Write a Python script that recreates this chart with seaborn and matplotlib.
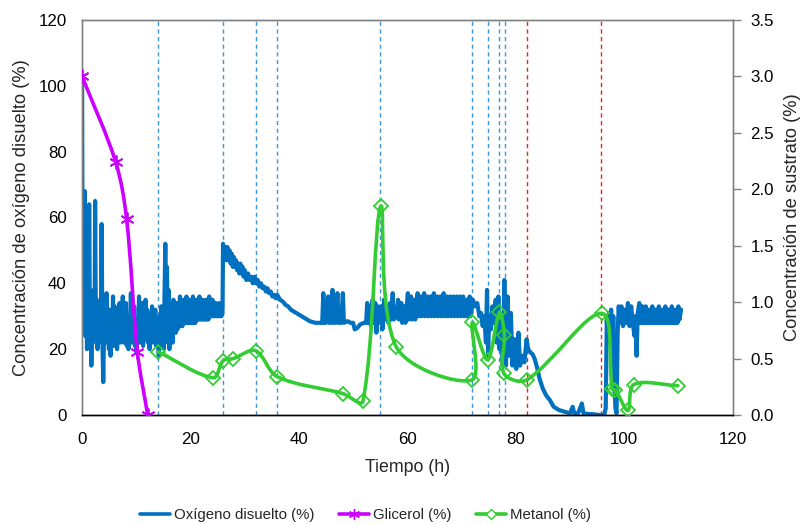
import matplotlib
matplotlib.use("Agg")
import matplotlib.pyplot as plt
from matplotlib.lines import Line2D
from matplotlib.path import Path
from matplotlib.patches import PathPatch
import seaborn as sns
import pandas as pd
import numpy as np

sns.set_theme(style="white")
plt.rcParams['font.family'] = ['Liberation Sans', 'DejaVu Sans']

# ---------------- data ----------------
# Dissolved oxygen trace (t in h, value in %)
oxigeno = [
    (0, 103), (0.1, 30), (0.25, 55), (0.35, 26), (0.5, 68), (0.6, 24), (0.75, 50), (0.9, 20),
    (1.05, 45), (1.2, 28), (1.3, 64), (1.45, 22), (1.6, 38), (1.7, 15), (1.85, 30), (2.0, 22),
    (2.15, 34), (2.3, 25), (2.4, 65), (2.55, 24), (2.7, 35), (2.85, 20), (3.0, 33), (3.15, 22),
    (3.3, 30), (3.45, 24), (3.6, 58), (3.75, 22), (3.9, 10), (4.05, 26), (4.2, 33), (4.35, 22),
    (4.5, 37), (4.65, 24), (4.8, 30), (4.95, 20), (5.1, 32), (5.25, 18), (5.4, 30), (5.55, 24),
    (5.7, 36), (5.85, 21), (6.0, 33), (6.15, 25), (6.3, 32), (6.45, 20), (6.6, 29), (6.75, 23),
    (6.9, 34), (7.05, 22), (7.2, 31), (7.35, 24), (7.5, 36), (7.65, 22), (7.8, 30), (7.95, 24),
    (8.1, 34), (8.25, 21), (8.4, 28), (8.55, 20), (8.7, 30), (8.85, 24), (9.0, 37), (9.15, 22),
    (9.3, 31), (9.45, 24), (9.6, 33), (9.75, 21), (9.9, 29), (10.05, 19), (10.2, 27),
    (10.35, 24), (10.5, 36), (10.65, 22), (10.8, 32), (10.95, 23), (11.1, 34), (11.25, 21),
    (11.4, 30), (11.55, 23), (11.7, 35), (11.85, 24), (12.0, 32), (12.15, 22), (12.3, 30),
    (12.45, 20), (12.6, 31), (12.75, 24), (12.9, 33), (13.05, 22), (13.2, 30), (13.35, 24),
    (13.5, 32), (13.65, 21), (13.8, 26),
    (14.0, 24), (14.15, 18), (14.3, 30), (14.45, 21), (14.6, 33), (14.75, 22), (14.9, 28),
    (15.05, 20), (15.2, 35), (15.35, 52), (15.5, 25), (15.65, 45), (15.8, 22), (15.95, 38),
    (16.1, 20), (16.25, 32), (16.4, 23), (16.55, 33), (16.7, 22), (16.85, 35), (17.0, 26),
    (17.15, 31), (17.3, 25), (17.45, 34), (17.6, 26), (17.75, 32), (17.9, 27), (18.05, 36),
    (18.2, 27), (18.35, 33), (18.5, 27), (18.65, 35), (18.8, 28), (18.95, 34), (19.1, 28),
    (19.25, 36), (19.4, 28), (19.55, 34), (19.7, 28), (19.85, 35), (20.0, 28), (20.15, 33),
    (20.3, 28), (20.45, 36), (20.6, 28), (20.75, 34), (20.9, 28), (21.05, 35), (21.2, 29),
    (21.35, 33), (21.5, 29), (21.65, 36), (21.8, 29), (21.95, 34), (22.1, 29), (22.25, 35),
    (22.4, 29), (22.55, 33), (22.7, 29), (22.85, 35), (23.0, 29), (23.15, 33), (23.3, 29),
    (23.45, 36), (23.6, 30), (23.75, 34), (23.9, 30), (24.05, 35), (24.2, 30), (24.35, 33),
    (24.5, 30), (24.65, 34), (24.8, 30), (24.95, 33), (25.1, 30), (25.25, 34), (25.4, 30),
    (25.55, 32), (25.7, 30), (25.9, 31),
    (26.0, 52), (26.2, 48), (26.4, 51), (26.6, 47), (26.8, 51), (27.0, 47), (27.2, 50),
    (27.4, 46), (27.6, 49), (27.8, 45), (28.0, 48), (28.2, 45), (28.4, 47), (28.6, 44),
    (28.8, 46), (29.0, 43), (29.2, 46), (29.4, 43), (29.6, 45), (29.8, 42), (30.0, 44),
    (30.3, 41), (30.6, 43), (30.9, 41), (31.2, 42), (31.5, 40), (31.8, 42), (32.1, 40),
    (32.4, 41), (32.7, 39), (33.0, 40), (33.3, 38.5), (33.6, 39), (33.9, 37.5), (34.2, 38.5),
    (34.5, 37), (34.8, 37.5), (35.1, 36), (35.4, 36.5), (35.7, 35.5), (36.0, 36.5),
    (36.5, 35), (37.0, 34.5), (37.5, 33.5), (38.0, 33), (38.5, 32), (39.0, 31.5),
    (39.5, 31), (40.0, 30.5), (40.5, 30), (41.0, 29.5), (42.0, 28.5), (43.0, 28), (44.0, 28),
    (44.3, 28), (44.5, 37), (44.7, 28), (45.0, 28), (45.4, 36), (45.6, 28), (45.9, 28),
    (46.2, 38), (46.4, 28), (46.8, 28), (47.1, 37), (47.3, 28), (47.8, 28), (48.1, 37),
    (48.3, 28), (49.0, 28.5), (49.5, 28), (50.0, 28), (50.3, 26), (50.8, 26.5), (51.3, 27.5),
    (52.0, 28), (52.4, 28), (52.6, 34), (52.8, 28), (53.1, 33), (53.3, 27), (53.6, 35),
    (53.8, 28), (54.1, 34), (54.3, 25), (54.6, 33), (54.9, 28), (55.2, 33), (55.4, 26),
    (55.7, 35), (55.9, 29), (56.2, 31), (56.5, 28), (56.8, 34), (57.0, 29), (57.3, 37),
    (57.5, 29),
    (58.0, 30), (58.3, 35), (58.45, 29), (58.6, 32), (58.9, 34), (59.05, 28), (59.2, 31),
    (59.5, 33), (59.65, 28), (59.8, 31), (60.1, 37), (60.25, 29), (60.4, 32), (60.7, 36),
    (60.85, 29), (61.0, 32), (61.3, 35), (61.45, 29), (61.6, 32), (61.9, 37), (62.05, 30),
    (62.2, 32), (62.5, 36), (62.65, 30), (62.8, 32), (63.1, 37), (63.25, 30), (63.4, 32),
    (63.7, 36), (63.85, 30), (64.0, 32), (64.3, 36), (64.45, 30), (64.6, 32), (64.9, 37),
    (65.05, 30), (65.2, 32), (65.5, 36), (65.65, 30), (65.8, 32), (66.1, 36), (66.25, 30),
    (66.4, 32), (66.7, 37), (66.85, 30), (67.0, 32), (67.3, 36), (67.45, 30), (67.6, 32),
    (67.9, 36), (68.05, 30), (68.2, 32), (68.5, 36), (68.65, 30), (68.8, 32), (69.1, 36),
    (69.25, 30), (69.4, 32), (69.7, 36), (69.85, 30), (70.0, 32), (70.3, 36), (70.45, 30),
    (70.6, 32), (70.9, 35), (71.05, 30), (71.2, 32), (71.5, 36), (71.65, 30), (71.8, 31),
    (72.1, 35), (72.5, 33), (72.9, 34), (73.3, 30), (73.6, 31), (73.9, 27), (74.2, 30),
    (74.5, 22), (74.7, 38), (74.9, 18), (75.1, 30), (75.4, 26), (75.7, 33), (76.0, 28),
    (76.3, 35), (76.5, 22), (76.8, 36), (77.0, 20), (77.3, 30), (77.6, 15), (77.9, 41),
    (78.2, 15), (78.5, 36), (78.8, 18), (79.1, 31), (79.4, 15), (79.8, 23), (80.1, 14),
    (80.5, 25), (80.8, 15), (81.2, 18), (81.6, 16), (82.0, 23), (82.3, 20), (82.7, 19),
    (83.1, 18.5), (83.5, 17), (84.0, 14), (84.4, 11), (85.0, 8), (85.6, 6), (86.3, 4.5),
    (87.0, 2.5), (88.0, 1.5), (89.0, 1), (90.0, 0.5), (90.5, 2.5), (90.8, 0.5), (91.5, 0.5),
    (92.2, 3.5), (92.5, 0.5), (93.5, 0.3), (94.5, 0.2), (95.5, 0), (96.3, 0), (96.6, 2),
    (96.8, 29), (97.0, 22), (97.2, 31), (97.4, 26), (97.6, 32), (97.8, 20), (98.0, 30),
    (98.2, 10), (98.4, 2), (98.6, 0.5), (98.8, 25), (99.0, 33), (99.2, 28), (99.5, 33),
    (99.8, 27), (100.1, 32), (100.4, 28), (100.7, 34), (101.0, 27), (101.3, 33), (101.6, 28),
    (101.9, 24), (102.1, 30), (102.3, 18), (102.5, 31), (102.8, 34), (102.95, 28), (103.1, 31),
    (103.25, 28), (103.4, 33), (103.55, 28), (103.7, 31), (103.85, 28), (104.0, 33),
    (104.15, 28), (104.3, 31), (104.45, 28), (104.6, 32), (104.75, 28), (104.9, 31),
    (105.05, 28), (105.2, 33), (105.35, 28), (105.5, 31), (105.65, 28), (105.8, 32),
    (105.95, 28), (106.1, 31), (106.25, 28), (106.4, 33), (106.55, 28), (106.7, 31),
    (106.85, 28), (107.0, 32), (107.15, 28), (107.3, 31), (107.45, 28), (107.6, 33),
    (107.75, 28), (107.9, 31), (108.05, 28), (108.2, 32), (108.35, 28), (108.5, 31),
    (108.65, 28), (108.8, 33), (108.95, 28), (109.1, 31), (109.25, 28), (109.4, 32),
    (109.55, 28), (109.7, 31), (109.85, 28), (110.0, 33), (110.2, 29), (110.5, 32),
]

# Glycerol (%)
glicerol_t = [0, 6.2, 8.2, 10.2, 12.1]
glicerol_v = [3.0, 2.24, 1.74, 0.56, 0.0]

# Methanol (%)
metanol_t = [14, 24.2, 26, 27.9, 32, 36, 48.1, 51.8, 55.1, 58, 71.9, 72, 74.8, 77,
             77.9, 77.8, 82, 95.9, 97.8, 98.4, 100.7, 101.8, 109.9]
metanol_v = [0.56, 0.33, 0.48, 0.50, 0.57, 0.34, 0.19, 0.12, 1.85, 0.60, 0.31, 0.82,
             0.49, 0.91, 0.71, 0.37, 0.31, 0.90, 0.23, 0.22, 0.04, 0.27, 0.26]

# Pulse / event markers (h)
pulsos_azul = [14, 26, 32, 36, 55, 72, 74.8, 76.9, 78]
pulsos_rojo = [82, 95.8]

etiquetas = ["Oxígeno disuelto (%)", "Glicerol (%)", "Metanol (%)"]

# ---------------- plot ----------------
c_ox = "#0070C0"
c_gli = "#CC00FF"
c_met = "#33CC33"
LW = 2.6


def smooth_path(ax, xs, ys, color, lw, z):
    """Excel-style smoothed connector: cubic Bezier through the data points,
    tangents computed in display space with chord-length weighting."""
    pts = ax.transData.transform(np.column_stack([xs, ys]))
    n = len(pts)
    d = [np.hypot(*(pts[i + 1] - pts[i])) for i in range(n - 1)]
    verts = [pts[0]]
    codes = [Path.MOVETO]
    for i in range(n - 1):
        p0 = pts[i - 1] if i > 0 else pts[i]
        p1, p2 = pts[i], pts[i + 1]
        p3 = pts[i + 2] if i + 2 < n else pts[i + 1]
        dprev = d[i - 1] if i > 0 else 0.0
        dnext = d[i + 1] if i + 2 < n else 0.0
        di = d[i]
        c1 = p1 + (p2 - p0) * di / (3.0 * (dprev + di)) if (dprev + di) > 0 else p1
        c2 = p2 - (p3 - p1) * di / (3.0 * (di + dnext)) if (di + dnext) > 0 else p2
        verts += [c1, c2, p2]
        codes += [Path.CURVE4] * 3
    verts = ax.transData.inverted().transform(np.array(verts))
    patch = PathPatch(Path(verts, codes), facecolor="none", edgecolor=color,
                      linewidth=lw, zorder=z, capstyle="round", joinstyle="round",
                      transform=ax.transData)
    ax.add_patch(patch)


fig = plt.figure(figsize=(8.05, 5.24), dpi=100)
ax = fig.add_axes([0.102, 0.208, 0.808, 0.754])
ax2 = ax.twinx()

ax.set_xlim(0, 120)
ax.set_ylim(0, 120)
ax2.set_xlim(0, 120)
ax2.set_ylim(0, 3.5)

for x in pulsos_azul:
    ax.axvline(x, color="#3F95DA", linestyle=(0, (3, 2.5)), linewidth=1.0, zorder=1)
for x in pulsos_rojo:
    ax.axvline(x, color="#FF1A1A", linestyle=(0, (3, 2.5)), linewidth=1.0, zorder=1)

df_ox = pd.DataFrame(oxigeno, columns=["t", "v"])
sns.lineplot(data=df_ox, x="t", y="v", ax=ax, color=c_ox, linewidth=3.0,
             sort=False, estimator=None, zorder=2)

ax.set_xlim(0, 120)
ax.set_ylim(0, 120)
ax2.set_xlim(0, 120)
ax2.set_ylim(0, 3.5)

df_gli = pd.DataFrame({"t": glicerol_t, "v": glicerol_v})
smooth_path(ax2, glicerol_t, glicerol_v, c_gli, LW, 4)
sns.lineplot(data=df_gli, x="t", y="v", ax=ax2, color=c_gli, linestyle="",
             sort=False, estimator=None, marker=(6, 2, 0), markersize=10,
             markeredgecolor=c_gli, markeredgewidth=1.3, zorder=5)

df_met = pd.DataFrame({"t": metanol_t, "v": metanol_v})
smooth_path(ax2, metanol_t, metanol_v, c_met, LW, 3)
sns.lineplot(data=df_met, x="t", y="v", ax=ax2, color=c_met, linestyle="",
             sort=False, estimator=None, marker="D", markersize=7,
             markerfacecolor="none", markeredgecolor=c_met, markeredgewidth=1.3, zorder=3.5)

ax.set_xlim(0, 120)
ax.set_ylim(0, 120)
ax2.set_xlim(0, 120)
ax2.set_ylim(0, 3.5)
ax.set_xticks(range(0, 121, 20))
ax.set_yticks(range(0, 121, 20))
ax2.set_yticks([i * 0.5 for i in range(8)])
ax2.set_yticklabels([f"{i * 0.5:.1f}" for i in range(8)])

ax.set_xlabel("Tiempo (h)", fontsize=12.8, labelpad=9)
ax.set_ylabel("Concentración de oxígeno disuelto (%)", fontsize=13.2, labelpad=6)
ax2.set_ylabel("Concentración de sustrato (%)", fontsize=13.2, labelpad=7)

ax.tick_params(axis="both", labelsize=12.2, length=0, colors="#000000")
ax.tick_params(axis="y", pad=11)
ax.tick_params(axis="x", pad=12)
ax2.tick_params(axis="y", labelsize=12.2, length=6, width=1, direction="out",
                color="#808080", labelcolor="#000000", pad=7, right=True)

for a in (ax, ax2):
    for s in ("top", "left", "right"):
        a.spines[s].set_color("#808080")
        a.spines[s].set_linewidth(1.0)
    a.spines["bottom"].set_color("#000000")
    a.spines["bottom"].set_linewidth(1.0)
    a.grid(False)

handles = [
    Line2D([], [], color=c_ox, linewidth=2.6),
    Line2D([], [], color=c_gli, linewidth=2.6, marker=(6, 2, 0), markersize=8,
           markeredgecolor=c_gli),
    Line2D([], [], color=c_met, linewidth=2.6, marker="D", markersize=5,
           markerfacecolor="white", markeredgecolor=c_met),
]
if ax.get_legend():
    ax.get_legend().remove()
if ax2.get_legend():
    ax2.get_legend().remove()
fig.legend(handles, etiquetas, loc="center", bbox_to_anchor=(0.454, 0.017), ncol=3,
           frameon=False, fontsize=10.8, handlelength=2.0, handletextpad=0.3,
           columnspacing=1.6)

fig.savefig("out.png", dpi=100)
